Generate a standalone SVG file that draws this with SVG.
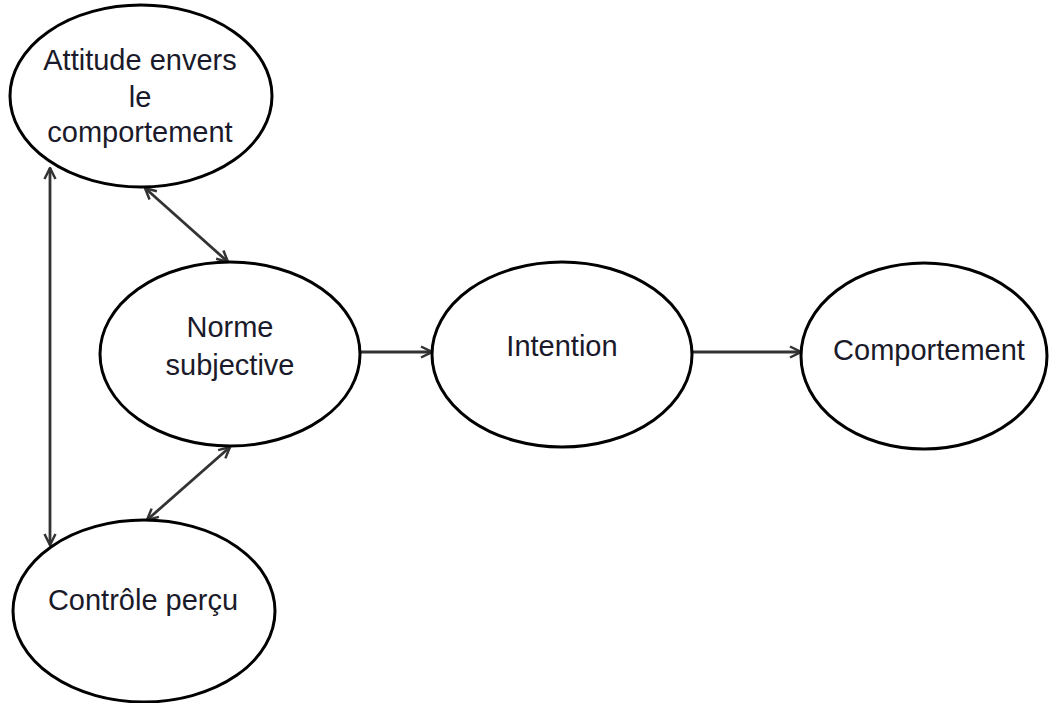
<svg xmlns="http://www.w3.org/2000/svg" width="1051" height="703" viewBox="0 0 1051 703">
<style>
.node ellipse{fill:#fff;stroke:#000;stroke-width:3}
.node text{font-family:"Liberation Sans",Arial,sans-serif;font-size:29px;fill:#1a1a2a;text-anchor:middle}
.conn line{stroke:#333;stroke-width:2.8;fill:none}
</style>
<defs>
<marker id="arr" viewBox="0 0 14 14" refX="12.5" refY="7" markerWidth="14" markerHeight="14" markerUnits="userSpaceOnUse" orient="auto-start-reverse">
<path d="M1.5,1.5 L12.5,7 L1.5,12.5" fill="none" stroke="#333" stroke-width="2.5"/>
</marker>
</defs>
<rect width="1051" height="703" fill="#fff"/>
<g class="conn" id="connectors">
<line x1="50" y1="168" x2="50" y2="545" marker-start="url(#arr)" marker-end="url(#arr)"/>
<line x1="145" y1="188" x2="228" y2="262" marker-start="url(#arr)" marker-end="url(#arr)"/>
<line x1="230" y1="447" x2="147" y2="520" marker-start="url(#arr)" marker-end="url(#arr)"/>
<line x1="361" y1="352" x2="432" y2="352" marker-end="url(#arr)"/>
<line x1="692" y1="352" x2="801" y2="352" marker-end="url(#arr)"/>
</g>
<g class="node" id="attitude">
<ellipse cx="141" cy="96" rx="131" ry="91"/>
<text x="140" y="70">Attitude envers</text>
<text x="140" y="107">le</text>
<text x="140" y="142">comportement</text>
</g>
<g class="node" id="norme">
<ellipse cx="230" cy="354" rx="130" ry="92"/>
<text x="230" y="337">Norme</text>
<text x="230" y="375">subjective</text>
</g>
<g class="node" id="intention">
<ellipse cx="562" cy="354.5" rx="130" ry="92.5"/>
<text x="562" y="356">Intention</text>
</g>
<g class="node" id="comportement">
<ellipse cx="924" cy="356" rx="123" ry="93"/>
<text x="929" y="360">Comportement</text>
</g>
<g class="node" id="controle">
<ellipse cx="144" cy="611" rx="131" ry="91"/>
<text x="143" y="610">Contrôle perçu</text>
</g>
</svg>
